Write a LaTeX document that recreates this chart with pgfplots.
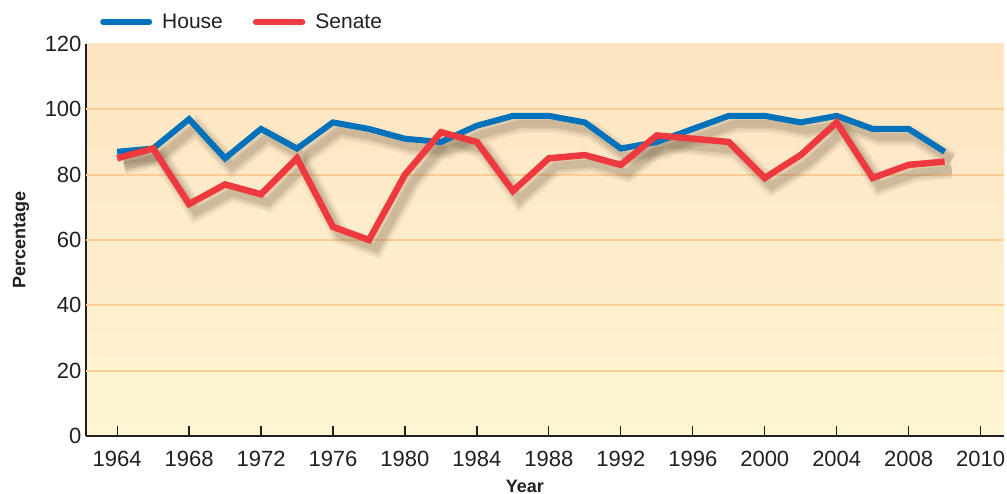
\documentclass[border=0pt]{standalone}
\usepackage{fontspec}
\setmainfont{Liberation Sans}
\usepackage{pgfplots}
\pgfplotsset{compat=1.18}
\definecolor{houseblue}{RGB}{0,114,188}
\definecolor{senatered}{RGB}{238,58,62}
\definecolor{gridorange}{RGB}{251,204,150}
\definecolor{bgtop}{RGB}{253,228,194}
\definecolor{bgbot}{RGB}{254,245,210}
\definecolor{txt}{RGB}{35,31,32}
\definecolor{shadowc}{RGB}{90,70,50}
\pgfplotstableread{
year house senate
1964 87 85
1966 88 88
1968 97 71
1970 85 77
1972 94 74
1974 88 85
1976 96 64
1978 94 60
1980 91 80
1982 90 93
1984 95 90
1986 98 75
1988 98 85
1990 96 86
1992 88 83
1994 90 92
1996 94 91
1998 98 90
2000 98 79
2002 96 86
2004 98 96
2006 94 79
2008 94 83
2010 87 84
}\datatable
\pgfplotsset{
  shadow/.style={forget plot, draw=shadowc, transform canvas={xshift=7pt,yshift=-8pt}},
}
\begin{document}
\begin{tikzpicture}
\begin{axis}[
  scale only axis,
  width=918pt, height=392pt,
  xmin=1962.27, xmax=2013.3,
  ymin=0, ymax=120,
  axis lines=left,
  axis line style={-, line width=2.6pt, color=txt},
  xtick={1964,1968,...,2012},
  xticklabels={1964,1968,1972,1976,1980,1984,1988,1992,1996,2000,2004,2008,2010},
  ytick={0,20,...,120},
  extra y ticks={20,40,60,80,100},
  extra y tick labels={},
  extra y tick style={ymajorgrids=true, major tick length=0pt},
  ytick style={draw=none},
  xtick style={line width=1.2pt, color=txt},
  major tick length=10pt,
  tick align=inside,
  grid style={gridorange, line width=2.2pt},
  ticklabel style={font=\fontsize{22}{26}\selectfont, text=txt},
  /pgf/number format/assume math mode=true,
  xticklabel style={yshift=-12pt},
  yticklabel style={xshift=-1pt},
  axis background/.style={top color=bgtop, bottom color=bgbot},
  xlabel={Year},
  ylabel={Percentage},
  xlabel style={font=\bfseries\fontsize{18}{21}\selectfont, text=txt, at={(axis description cs:0.478,-0.1276)}, anchor=center},
  ylabel style={font=\bfseries\fontsize{18}{21}\selectfont, text=txt, at={(axis description cs:-0.0708,0.5)}, anchor=center, rotate=0},
  legend columns=2,
  legend style={draw=none, fill=none, at={(axis description cs:0.01525,1.0561)}, anchor=west, inner sep=0pt,
    font=\fontsize{21}{25}\selectfont, text=txt,
    /tikz/every odd column/.append style={column sep=8pt},
    /tikz/every even column/.append style={column sep=28pt}},
  legend image code/.code={\draw[#1, line cap=round] (0pt,0pt) -- (46pt,0pt);},
  clip=false,
]
\coordinate (sw) at (rel axis cs:0,0);
\addplot[shadow, opacity=0.08, line width=18pt] table[x=year,y=house] {\datatable};
\addplot[shadow, opacity=0.08, line width=18pt] table[x=year,y=senate] {\datatable};
\addplot[shadow, opacity=0.10, line width=13pt] table[x=year,y=house] {\datatable};
\addplot[shadow, opacity=0.10, line width=13pt] table[x=year,y=senate] {\datatable};
\addplot[shadow, opacity=0.14, line width=8pt] table[x=year,y=house] {\datatable};
\addplot[shadow, opacity=0.14, line width=8pt] table[x=year,y=senate] {\datatable};
\addplot[houseblue, line width=6pt] table[x=year,y=house] {\datatable};
\addlegendentry{House}
\addplot[senatered, line width=6.5pt] table[x=year,y=senate] {\datatable};
\addlegendentry{Senate}
\end{axis}
\pgfresetboundingbox
\path (sw) ++(-86pt,-58pt) rectangle ++(1007pt,494pt);
\end{tikzpicture}
\end{document}
